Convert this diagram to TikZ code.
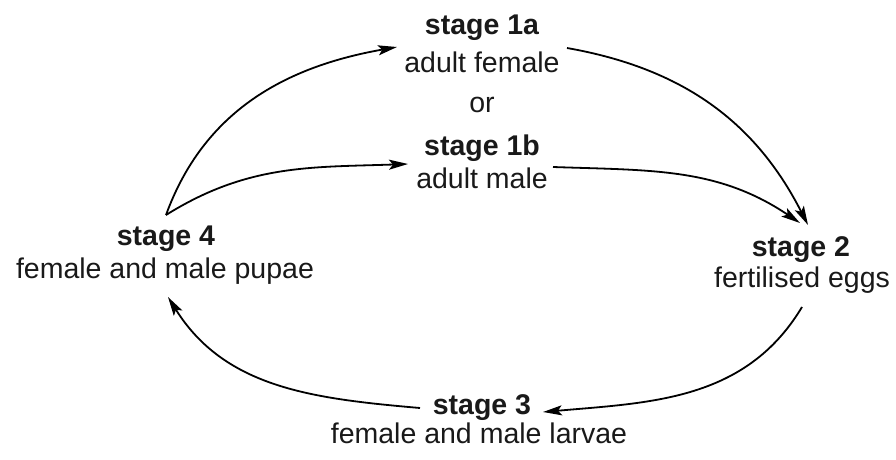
\documentclass[tikz,border=0pt]{standalone}
\usepackage{fontspec}
\setmainfont{Liberation Sans}
\usetikzlibrary{arrows.meta}
\begin{document}
\begin{tikzpicture}[x=1pt,y=1pt,
  lbl/.style={inner sep=0pt, anchor=base, font=\fontsize{28.5}{34}\selectfont, text=black!90},
  ttl/.style={lbl, font=\fontsize{28.5}{34}\selectfont\bfseries},
  flow/.style={line width=1.8pt, -{Stealth[length=19pt,width=10pt,inset=4pt]}}]
\useasboundingbox (0,0) rectangle (896,459);

% stage labels
\node[ttl] (s1a)  at (482,424) {stage 1a};
\node[lbl] (s1ad) at (482,387) {adult female};
\node[lbl] (or)   at (482,347) {or};
\node[ttl] (s1b)  at (482,304) {stage 1b};
\node[lbl] (s1bd) at (482,271) {adult male};
\node[ttl] (s4)   at (166,214) {stage 4};
\node[lbl] (s4d)  at (165,181) {female and male pupae};
\node[ttl] (s2)   at (801,203) {stage 2};
\node[lbl] (s2d)  at (802,172) {fertilised eggs};
\node[ttl] (s3)   at (482,45)  {stage 3};
\node[lbl] (s3d)  at (479,16)  {female and male larvae};

% life-cycle arrows
\draw[flow] ([shift={(0,30)}]s4.base) to[out=70,in=190] ([shift={(-85,-12)}]s1a.base);
\draw[flow] ([shift={(0,30)}]s4.base) to[out=32,in=182] ([shift={(-74,-9)}]s1b.base);
\draw[flow] ([shift={(85,-13)}]s1a.base) to[out=-10,in=117] ([shift={(7,31)}]s2.base);
\draw[flow] ([shift={(71,-12)}]s1b.base) to[out=-2,in=146] ([shift={(-1,33)}]s2.base);
\draw[flow] ([shift={(0,-20)}]s2d.base) to[out=-121,in=5] ([shift={(61,2)}]s3.base);
\draw[flow] ([shift={(-62,6)}]s3.base) to[out=175,in=-58] ([shift={(3,-19)}]s4d.base);
\end{tikzpicture}
\end{document}
